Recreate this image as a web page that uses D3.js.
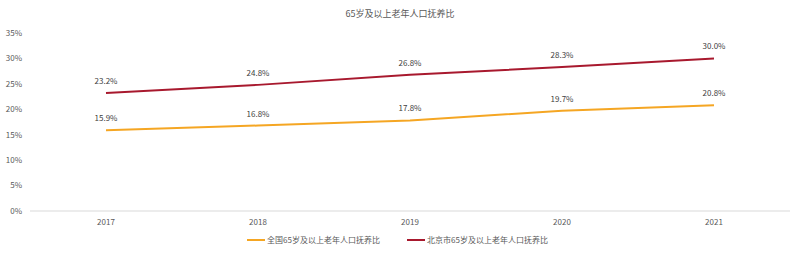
<!DOCTYPE html>
<html>
<head>
<meta charset="utf-8">
<script src="https://cdn.jsdelivr.net/npm/d3@7"></script>
<style>
  body { margin: 0; background: #fff; }
  svg { font-family: "Noto Sans CJK SC", "Noto Sans", sans-serif; }
</style>
</head>
<body>
<svg id="chart"></svg>
<script>
"use strict";

const years = ["2017", "2018", "2019", "2020", "2021"];
const nationalRatio = [15.9, 16.8, 17.8, 19.7, 20.8];
const beijingRatio = [23.2, 24.8, 26.8, 28.3, 30.0];
const yTicks = [0, 5, 10, 15, 20, 25, 30, 35];
const seriesNames = ["全国65岁及以上老年人口抚养比", "北京市65岁及以上老年人口抚养比"];
const seriesColors = ["#f5a623", "#a8192e"];

const width = 800, height = 254;
const margin = { top: 33, right: 10, bottom: 43, left: 30 };

const svg = d3.select("#chart")
    .attr("width", width)
    .attr("height", height);

const x = d3.scaleBand()
    .domain(years)
    .range([margin.left, width - margin.right]);

const y = d3.scaleLinear()
    .domain([0, 35])
    .range([height - margin.bottom, margin.top]);

// title
svg.append("text")
    .attr("x", width / 2)
    .attr("y", 17)
    .attr("text-anchor", "middle")
    .attr("font-size", 9)
    .attr("fill", "#595959")
    .text("65岁及以上老年人口抚养比");

// y axis labels
svg.append("g")
    .selectAll("text")
    .data(yTicks)
    .enter().append("text")
    .attr("x", 22)
    .attr("y", d => y(d))
    .attr("dy", "0.35em")
    .attr("text-anchor", "end")
    .attr("font-size", 8)
    .attr("fill", "#595959")
    .text(d => d + "%");

// baseline
svg.append("line")
    .attr("x1", margin.left)
    .attr("x2", width - margin.right)
    .attr("y1", y(0))
    .attr("y2", y(0))
    .attr("stroke", "#d9d9d9")
    .attr("stroke-width", 1);

// x labels
svg.append("g")
    .selectAll("text")
    .data(years)
    .enter().append("text")
    .attr("x", d => x(d) + x.bandwidth() / 2)
    .attr("y", y(0) + 14)
    .attr("text-anchor", "middle")
    .attr("font-size", 8)
    .attr("fill", "#595959")
    .text(d => d);

const line = d3.line()
    .x((d, i) => x(years[i]) + x.bandwidth() / 2)
    .y(d => y(d));

[nationalRatio, beijingRatio].forEach((values, k) => {
    svg.append("path")
        .datum(values)
        .attr("d", line)
        .attr("fill", "none")
        .attr("stroke", seriesColors[k])
        .attr("stroke-width", 2);

    svg.append("g")
        .selectAll("text")
        .data(values)
        .enter().append("text")
        .attr("x", (d, i) => x(years[i]) + x.bandwidth() / 2)
        .attr("y", d => y(d) - 9)
        .attr("text-anchor", "middle")
        .attr("font-size", 8)
        .attr("fill", "#404040")
        .text(d => d.toFixed(1) + "%");
});

// legend
const legendX = [247, 407];
seriesNames.forEach((name, k) => {
    const g = svg.append("g").attr("transform", `translate(${legendX[k]},240)`);
    g.append("line")
        .attr("x1", 0).attr("x2", 18)
        .attr("stroke", seriesColors[k])
        .attr("stroke-width", 2);
    g.append("text")
        .attr("x", 20)
        .attr("dy", "0.35em")
        .attr("font-size", 8)
        .attr("fill", "#595959")
        .text(name);
});
</script>
</body>
</html>
